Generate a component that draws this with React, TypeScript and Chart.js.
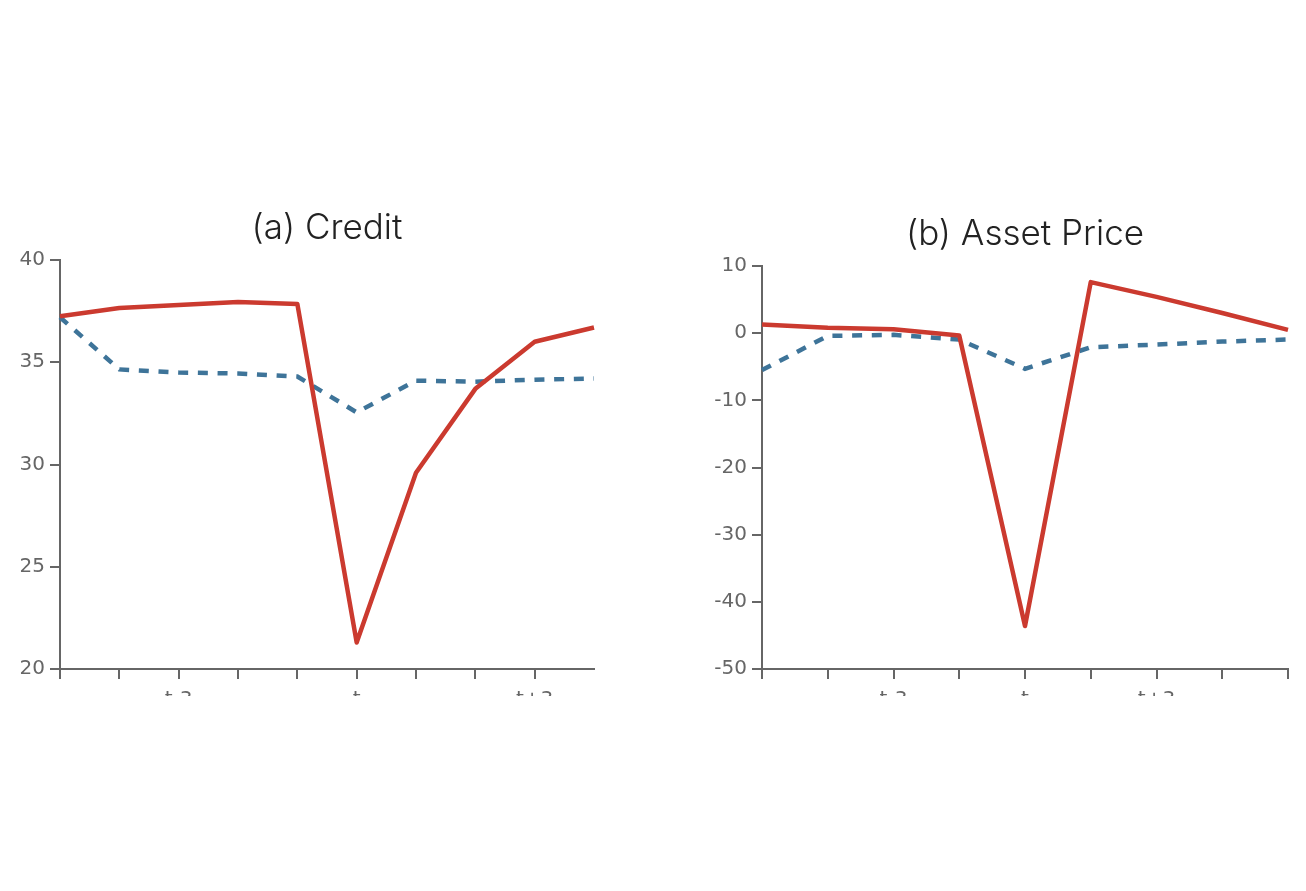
import React, { useEffect, useRef } from 'react';
import Chart from 'chart.js/auto';

// periods shown on each panel
const CREDIT_LABELS = ['', '', 't-3', '', '', 't', '', '', 't+3', ''];
const ASSET_LABELS = ['', '', 't-3', '', 't', '', 't+3', '', ''];

// (a) Credit
const CREDIT_CRISIS = [37.25, 37.65, 37.8, 37.95, 37.85, 21.3, 29.6, 33.7, 36.0, 36.7];
const CREDIT_NORMAL = [37.2, 34.65, 34.5, 34.45, 34.3, 32.55, 34.1, 34.05, 34.15, 34.2];

// (b) Asset Price
const ASSET_CRISIS = [1.3, 0.8, 0.6, -0.35, -43.6, 7.6, 5.4, 3.0, 0.5];
const ASSET_NORMAL = [-5.5, -0.4, -0.25, -0.95, -5.3, -2.1, -1.7, -1.25, -0.95];

const RED = '#cb3a2f';
const BLUE = '#3e7499';
const AXIS = '#666666';
const TICK_FONT = { family: '"DejaVu Sans", sans-serif', size: 20 };
const TITLE_SIZE = 35;

interface PanelProps {
  title: string;
  labels: string[];
  crisis: number[];
  normal: number[];
  yMin: number;
  yMax: number;
  yStep: number;
  width: number;
  yAxisWidth: number;
  padRight: number;
  areaTop: number; // chart area top inside the canvas
  titleMid: number; // title centre inside the canvas
  hideLastTick: boolean;
}

const Panel: React.FC<PanelProps> = (p) => {
  const canvasRef = useRef<HTMLCanvasElement>(null);

  useEffect(() => {
    if (!canvasRef.current) return;
    const lineH = TITLE_SIZE * 1.2;
    const padTop = p.titleMid - lineH / 2;
    const chart = new Chart(canvasRef.current, {
      type: 'line',
      data: {
        labels: p.labels,
        datasets: [
          {
            data: p.crisis,
            borderColor: RED,
            borderWidth: 4.5,
            pointRadius: 0,
            tension: 0,
            borderJoinStyle: 'round',
          },
          {
            data: p.normal,
            borderColor: BLUE,
            borderWidth: 4.5,
            borderDash: [10, 9.7],
            pointRadius: 0,
            tension: 0,
          },
        ],
      },
      options: {
        animation: false,
        responsive: true,
        maintainAspectRatio: false,
        layout: { padding: { top: 0, right: p.padRight, bottom: 0, left: 0 } },
        plugins: {
          legend: { display: false },
          tooltip: { enabled: false },
          title: {
            display: true,
            text: p.title,
            fullSize: false,
            color: '#222222',
            font: { family: 'Inter, sans-serif', size: TITLE_SIZE, weight: 300, lineHeight: 1.2 },
            padding: { top: padTop, bottom: p.areaTop - padTop - lineH },
          },
        },
        scales: {
          x: {
            type: 'category',
            offset: false,
            afterFit: (scale: any) => {
              scale.height = 81;
            },
            border: { display: true, color: AXIS, width: 2 },
            grid: {
              drawOnChartArea: false,
              drawTicks: true,
              tickLength: 10,
              lineWidth: 2,
              tickColor: (ctx: any) =>
                p.hideLastTick && ctx.index === p.labels.length - 1 ? 'rgba(0,0,0,0)' : AXIS,
            },
            ticks: {
              autoSkip: false,
              maxRotation: 0,
              padding: 9,
              color: AXIS,
              font: TICK_FONT,
            },
          },
          y: {
            min: p.yMin,
            max: p.yMax,
            afterFit: (scale: any) => {
              scale.width = p.yAxisWidth;
            },
            border: { display: true, color: AXIS, width: 2 },
            grid: {
              drawOnChartArea: false,
              drawTicks: true,
              tickLength: 10,
              lineWidth: 2,
              tickColor: AXIS,
            },
            ticks: {
              stepSize: p.yStep,
              padding: 5,
              color: AXIS,
              font: TICK_FONT,
            },
          },
        },
      },
    });
    return () => chart.destroy();
  }, [p]);

  return (
    <div style={{ width: p.width, height: 560 }}>
      <canvas ref={canvasRef}></canvas>
    </div>
  );
};

export default function App() {
  return (
    <div
      style={{
        position: 'fixed',
        left: 0,
        top: 0,
        width: 1306,
        height: 891,
        overflow: 'hidden',
        background: '#ffffff',
      }}
    >
      <div style={{ position: 'absolute', left: 0, top: 190, width: 620, height: 506, overflow: 'hidden' }}>
        <Panel
          title="(a) Credit"
          labels={CREDIT_LABELS}
          crisis={CREDIT_CRISIS}
          normal={CREDIT_NORMAL}
          yMin={20}
          yMax={40}
          yStep={5}
          width={620}
          yAxisWidth={60}
          padRight={26}
          areaTop={70}
          titleMid={38}
          hideLastTick={true}
        />
      </div>
      <div style={{ position: 'absolute', left: 690, top: 190, width: 616, height: 506, overflow: 'hidden' }}>
        <Panel
          title="(b) Asset Price"
          labels={ASSET_LABELS}
          crisis={ASSET_CRISIS}
          normal={ASSET_NORMAL}
          yMin={-50}
          yMax={10}
          yStep={10}
          width={616}
          yAxisWidth={72}
          padRight={18}
          areaTop={76}
          titleMid={44}
          hideLastTick={false}
        />
      </div>
    </div>
  );
}
